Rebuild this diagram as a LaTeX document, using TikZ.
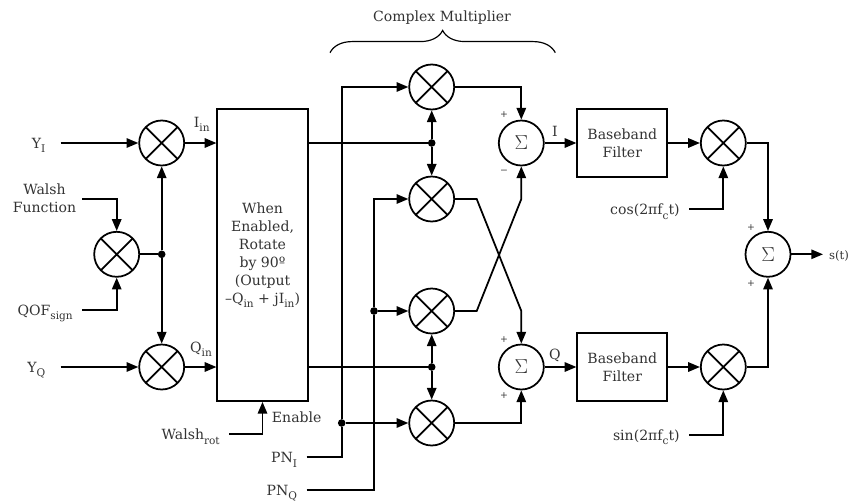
\documentclass[tikz,border=0pt]{standalone}
\usepackage{fontspec}
\setmainfont{DejaVu Serif}
\usepackage{tikz}
\usetikzlibrary{arrows.meta,decorations.pathreplacing}
\newcommand{\lsub}[1]{\raisebox{-3.6pt}{\fontsize{9}{9}\selectfont #1}}

\begin{document}
\begin{tikzpicture}[x=0.03cm,y=-0.03cm,
    font=\fontsize{12}{15.3}\selectfont,text=black!80,
    wire/.style={line width=1.5pt},
    tip/.style={wire,-{Triangle[length=10pt,width=8pt]}},
    mult/.style={circle,draw,line width=1.5pt,minimum size=1.35cm,inner sep=0pt,
      path picture={\draw[line width=1.5pt]
        (path picture bounding box.north west)--(path picture bounding box.south east)
        (path picture bounding box.north east)--(path picture bounding box.south west);}},
    adder/.style={circle,draw,line width=1.5pt,minimum size=1.35cm,inner sep=0pt,font=\fontsize{18}{18}\selectfont},
    dot/.style={circle,fill=black,minimum size=6.5pt,inner sep=0pt},
    filt/.style={draw,line width=1.5pt,minimum width=2.7cm,minimum height=2.02cm,align=center},
    lab/.style={anchor=east,inner ysep=0pt,inner xsep=8pt,text height=9.4pt,text depth=0pt},
    sgn/.style={font=\fontsize{8}{8}\selectfont,inner sep=0pt}]
    \useasboundingbox (0,0) rectangle (849,501);

    % multipliers and adders
    \foreach \name/\px/\py in {mI/161.7/143,mW/116.7/254.3,mQ/161.7/367,mA/431.7/87,
      mB/431.7/199,mC/431.7/311,mD/431.7/423,mcos/723.3/143,msin/723.3/367}
      \node[mult] (\name) at (\px,\py) {};
    \foreach \name/\px/\py in {sI/521.3/143,sQ/521.3/367,sOut/768/254.3}
      \node[adder] (\name) at (\px,\py) {$\Sigma$};

    % boxes
    \node[draw,line width=1.5pt,minimum width=2.71cm,minimum height=8.76cm,align=center] (rot) at (262.5,255)
      {When\\Enabled,\\Rotate\\by 90º\\(Output\\–Q\lsub{in} + jI\lsub{in})};
    \node[filt] (bbI) at (622.3,143) {Baseband\\Filter};
    \node[filt] (bbQ) at (622.3,367) {Baseband\\Filter};

    % junctions
    \foreach \name/\px/\py in {jW/161.7/254.3,jI/431.7/143,jQ/431.7/367,jpni/341.7/423,jpnq/374/311}
      \node[dot] (\name) at (\px,\py) {};

    % input labels
    \node[lab,inner xsep=13pt] (YI) at (60.7,143) {Y\lsub{I}};
    \node[lab,inner xsep=13pt] (YQ) at (60.7,367) {Y\lsub{Q}};
    \node[anchor=east,align=center,inner ysep=0pt,inner xsep=5pt] (wf) at (82.3,198.7) {Walsh\\Function};
    \node[lab] (qof) at (82.3,310) {QOF\lsub{sign}};
    \node[lab] (wr) at (229.3,434.3) {Walsh\lsub{rot}};
    \node[lab] (pni) at (306.7,457.3) {PN\lsub{I}};
    \node[lab] (pnq) at (306.7,490) {PN\lsub{Q}};
    \node[lab] (cos) at (689.3,209.3) {cos(2πf\lsub{c}t)};
    \node[lab] (sin) at (689.3,435) {sin(2πf\lsub{c}t)};
    \node[lab,anchor=west,inner xsep=5pt,font=\fontsize{10}{12}\selectfont] (st) at (823,254.3) {s(t)};

    % left side
    \draw[tip] (YI.east) -- (mI);
    \draw[tip] (YQ.east) -- (mQ);
    \draw[tip] (wf.east) -| (mW);
    \draw[tip] (qof.east) -| (mW);
    \draw[wire] (mW) -- (jW);
    \draw[tip] (jW) -- (mI);
    \draw[tip] (jW) -- (mQ);
    \draw[tip] (mI) -- (mI -| rot.west);
    \draw[tip] (mQ) -- (mQ -| rot.west);
    \draw[tip] (wr.east) -| (rot.south);

    % complex multiplier
    \draw[wire] (jI -| rot.east) -- (jI);
    \draw[wire] (jQ -| rot.east) -- (jQ);
    \draw[tip] (jI) -- (mA);
    \draw[tip] (jI) -- (mB);
    \draw[tip] (jQ) -- (mC);
    \draw[tip] (jQ) -- (mD);
    \draw[wire] (pni.east) -| (jpni);
    \draw[tip] (jpni) |- (mA);
    \draw[tip] (jpni) -- (mD);
    \draw[wire] (pnq.east) -| (jpnq);
    \draw[tip] (jpnq) |- (mB);
    \draw[tip] (jpnq) -- (mC);
    \coordinate (xB) at (476.7,199);
    \coordinate (xC) at (476.7,311);
    \draw[tip] (mA) -| (sI);
    \draw[tip] (mD) -| (sQ);
    \draw[tip] (mB.east) -- (xB) -- (sQ |- mC) -- (sQ);
    \draw[tip] (mC.east) -- (xC) -- (sI |- mB) -- (sI);

    % right side
    \draw[tip] (sI) -- (bbI);
    \draw[tip] (sQ) -- (bbQ);
    \draw[tip] (bbI) -- (mcos);
    \draw[tip] (bbQ) -- (msin);
    \draw[tip] (cos.east) -| (mcos);
    \draw[tip] (sin.east) -| (msin);
    \draw[tip] (mcos) -| (sOut);
    \draw[tip] (msin) -| (sOut);
    \draw[tip] (sOut) -- (st.west);

    % text beside the lines
    \node (lIin) at (201.7,124) {I\lsub{in}};
    \node (lQin) at (201,349) {Q\lsub{in}};
    \node (lI) at (555,131) {I};
    \node (lQ) at (555,355) {Q};
    \node[anchor=west,inner sep=0pt] (en) at (271.7,417) {Enable};
    \node[sgn] (p1) at (504,115) {+};
    \node[sgn] (n1) at (504,171.7) {−};
    \node[sgn] (p2) at (504,340) {+};
    \node[sgn] (p3) at (504,396) {+};
    \node[sgn] (p4) at (751,227.3) {+};
    \node[sgn] (p5) at (751,283.7) {+};

    % brace
    \coordinate (bl) at (330,52.7);
    \coordinate (br) at (555.3,52.7);
    \draw[line width=1pt,decorate,decoration={brace,amplitude=19pt}] (bl) -- (br);
    \node (cm) at (442,18) {Complex Multiplier};
\end{tikzpicture}
\end{document}
